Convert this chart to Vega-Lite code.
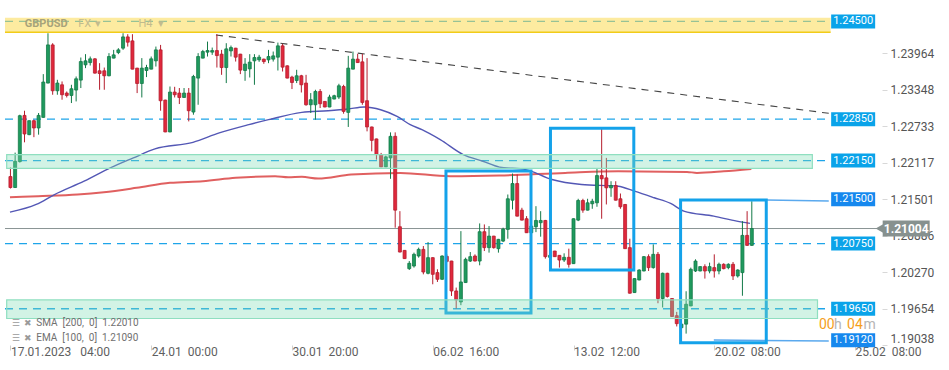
{
"$schema": "https://vega.github.io/schema/vega-lite/v6.json",
"width": 882, "height": 345,
"autosize": {"type": "none"},
"padding": {"left": 0, "top": 0, "right": 67, "bottom": 25},
"background": "white",
"config": {"view": {"stroke": null}, "font": "Roboto", "axis": {"grid": false, "domain": false, "title": null}},
"datasets": {
"levels": [
{"price": 1.245, "label": "1.24500"},
{"price": 1.2285, "label": "1.22850"},
{"price": 1.2215, "label": "1.22150"},
{"price": 1.215, "label": "1.21500"},
{"price": 1.2075, "label": "1.20750"},
{"price": 1.1965, "label": "1.19650"},
{"price": 1.1912, "label": "1.19120"}
],
"last": [{"last": 1.21004, "label": "1.21004"}],
"zones": [
{"zone": "top", "lo": 1.24316, "hi": 1.24562},
{"zone": "mid", "lo": 1.2202, "hi": 1.2225},
{"zone": "low", "lo": 1.19485, "hi": 1.19798}
],
"trend": [
{"id": "down", "i": 43.8, "p": 1.2427},
{"id": "down", "i": 174.4, "p": 1.22949},
{"id": "r1", "i": 161.1, "p": 1.21485},
{"id": "r1", "i": 174.4, "p": 1.21469},
{"id": "s1", "i": 149.9, "p": 1.19123},
{"id": "s1", "i": 174.4, "p": 1.19106}
],
"boxes": [
{"from": 92.82, "to": 110.94, "low": 1.19578, "high": 1.21975},
{"from": 115.09, "to": 132.85, "low": 1.20304, "high": 1.22696},
{"from": 142.82, "to": 161.08, "low": 1.19077, "high": 1.21485}
],
"ma": [
{"ma":"EMA","i":-0.1,"p":1.2128},{"ma":"EMA","i":5.5,"p":1.2141},{"ma":"EMA","i":9.4,"p":1.21578},{"ma":"EMA","i":15.7,"p":1.21802},{"ma":"EMA","i":21.3,"p":1.22028},{"ma":"EMA","i":26.2,"p":1.22196},{"ma":"EMA","i":30.8,"p":1.22348},{"ma":"EMA","i":38.9,"p":1.22459},{"ma":"EMA","i":44.5,"p":1.22617},{"ma":"EMA","i":50.8,"p":1.22757},{"ma":"EMA","i":55.0,"p":1.22841},{"ma":"EMA","i":62.1,"p":1.22964},{"ma":"EMA","i":67.7,"p":1.22992},{"ma":"EMA","i":71.9,"p":1.23021},{"ma":"EMA","i":75.4,"p":1.23055},{"ma":"EMA","i":78.9,"p":1.23009},{"ma":"EMA","i":82.4,"p":1.22896},{"ma":"EMA","i":85.2,"p":1.22757},{"ma":"EMA","i":87.7,"p":1.22672},{"ma":"EMA","i":91.6,"p":1.22504},{"ma":"EMA","i":96.5,"p":1.22252},{"ma":"EMA","i":100.7,"p":1.22139},{"ma":"EMA","i":104.2,"p":1.22041},{"ma":"EMA","i":109.8,"p":1.21999},{"ma":"EMA","i":115.4,"p":1.21831},{"ma":"EMA","i":121.7,"p":1.21747},{"ma":"EMA","i":129.5,"p":1.21718},{"ma":"EMA","i":133.0,"p":1.21634},{"ma":"EMA","i":137.2,"p":1.21523},{"ma":"EMA","i":140.7,"p":1.21427},{"ma":"EMA","i":143.5,"p":1.21297},{"ma":"EMA","i":149.9,"p":1.21213},{"ma":"EMA","i":154.8,"p":1.21129},{"ma":"EMA","i":157.6,"p":1.2109},
{"ma":"SMA","i":-0.1,"p":1.21533},{"ma":"SMA","i":5.9,"p":1.2155},{"ma":"SMA","i":14.3,"p":1.21578},{"ma":"SMA","i":19.9,"p":1.21617},{"ma":"SMA","i":26.9,"p":1.21691},{"ma":"SMA","i":34.0,"p":1.21775},{"ma":"SMA","i":41.0,"p":1.21802},{"ma":"SMA","i":48.0,"p":1.21859},{"ma":"SMA","i":56.4,"p":1.21886},{"ma":"SMA","i":59.2,"p":1.21869},{"ma":"SMA","i":62.1,"p":1.21876},{"ma":"SMA","i":65.6,"p":1.21848},{"ma":"SMA","i":72.6,"p":1.21915},{"ma":"SMA","i":83.1,"p":1.21943},{"ma":"SMA","i":93.7,"p":1.21886},{"ma":"SMA","i":104.2,"p":1.21898},{"ma":"SMA","i":118.2,"p":1.21943},{"ma":"SMA","i":129.5,"p":1.2197},{"ma":"SMA","i":144.2,"p":1.2196},{"ma":"SMA","i":146.3,"p":1.21943},{"ma":"SMA","i":152.0,"p":1.2197},{"ma":"SMA","i":157.9,"p":1.2201}
],
"notes": [
{"id": "sym", "text": "GBPUSD"},
{"id": "fx", "text": "FX"},
{"id": "dd1", "text": "▾"},
{"id": "tf", "text": "H4"},
{"id": "dd2", "text": "▾"},
{"id": "t1", "text": "00"},
{"id": "t2", "text": "h"},
{"id": "t3", "text": "04"},
{"id": "t4", "text": "m"},
{"id": "sma", "text": "SMA\u00a0\u00a0[200,\u00a0\u00a00]\u00a0\u00a01.22010"},
{"id": "ema", "text": "EMA\u00a0\u00a0[100,\u00a0\u00a00]\u00a0\u00a01.21090"},
{"id": "ic", "text": "☰\u00a0\u00a0✖"}
],
"candles": [
{"i":0,"o":1.21881,"h":1.22033,"l":1.21679,"c":1.21696},
{"i":1,"o":1.21696,"h":1.22285,"l":1.21688,"c":1.22139},
{"i":2,"o":1.22134,"h":1.22925,"l":1.22117,"c":1.22908},
{"i":3,"o":1.22913,"h":1.22992,"l":1.22459,"c":1.226},
{"i":4,"o":1.22588,"h":1.22829,"l":1.2258,"c":1.22824},
{"i":5,"o":1.22824,"h":1.22841,"l":1.22546,"c":1.22701},
{"i":6,"o":1.22701,"h":1.22954,"l":1.22588,"c":1.22913},
{"i":7,"o":1.2288,"h":1.2361,"l":1.22875,"c":1.23476},
{"i":8,"o":1.23459,"h":1.243,"l":1.23455,"c":1.24103},
{"i":9,"o":1.24103,"h":1.24132,"l":1.23262,"c":1.23329},
{"i":10,"o":1.23329,"h":1.23514,"l":1.23262,"c":1.23459},
{"i":11,"o":1.2343,"h":1.23486,"l":1.23178,"c":1.23262},
{"i":12,"o":1.2329,"h":1.23317,"l":1.23216,"c":1.2325},
{"i":13,"o":1.2325,"h":1.2343,"l":1.23122,"c":1.23363},
{"i":14,"o":1.23341,"h":1.2357,"l":1.23149,"c":1.23531},
{"i":15,"o":1.23509,"h":1.2389,"l":1.23375,"c":1.23822},
{"i":16,"o":1.23767,"h":1.23947,"l":1.23711,"c":1.23834},
{"i":17,"o":1.23805,"h":1.23907,"l":1.23755,"c":1.23868},
{"i":18,"o":1.23868,"h":1.2388,"l":1.23619,"c":1.23627},
{"i":19,"o":1.23666,"h":1.23795,"l":1.23346,"c":1.2362},
{"i":20,"o":1.23666,"h":1.23721,"l":1.23346,"c":1.23582},
{"i":21,"o":1.23582,"h":1.23964,"l":1.23573,"c":1.23907},
{"i":22,"o":1.2388,"h":1.24019,"l":1.23876,"c":1.23935},
{"i":23,"o":1.23974,"h":1.24048,"l":1.23947,"c":1.24019},
{"i":24,"o":1.24048,"h":1.243,"l":1.24019,"c":1.24238},
{"i":25,"o":1.24238,"h":1.24284,"l":1.24075,"c":1.24149},
{"i":26,"o":1.24171,"h":1.24284,"l":1.23691,"c":1.23694},
{"i":27,"o":1.23711,"h":1.23716,"l":1.2329,"c":1.23452},
{"i":28,"o":1.23452,"h":1.2388,"l":1.23216,"c":1.23711},
{"i":29,"o":1.23671,"h":1.23767,"l":1.2356,"c":1.23721},
{"i":30,"o":1.23694,"h":1.23907,"l":1.23691,"c":1.23868},
{"i":31,"o":1.23834,"h":1.24075,"l":1.23738,"c":1.24019},
{"i":32,"o":1.24019,"h":1.24103,"l":1.22992,"c":1.23161},
{"i":33,"o":1.23172,"h":1.23178,"l":1.2263,"c":1.22634},
{"i":34,"o":1.22634,"h":1.23401,"l":1.2263,"c":1.23307},
{"i":35,"o":1.23307,"h":1.23396,"l":1.23216,"c":1.23262},
{"i":36,"o":1.2329,"h":1.23375,"l":1.23105,"c":1.23216},
{"i":37,"o":1.23216,"h":1.23375,"l":1.23211,"c":1.2329},
{"i":38,"o":1.2329,"h":1.23375,"l":1.22812,"c":1.22992},
{"i":39,"o":1.2297,"h":1.23598,"l":1.22925,"c":1.2357},
{"i":40,"o":1.23543,"h":1.23964,"l":1.23093,"c":1.23907},
{"i":41,"o":1.2388,"h":1.24019,"l":1.23876,"c":1.23991},
{"i":42,"o":1.23981,"h":1.24159,"l":1.23907,"c":1.24008},
{"i":43,"o":1.23981,"h":1.24058,"l":1.23935,"c":1.24008},
{"i":44,"o":1.24008,"h":1.24284,"l":1.23721,"c":1.23923},
{"i":45,"o":1.23947,"h":1.24019,"l":1.23598,"c":1.23721},
{"i":46,"o":1.23721,"h":1.24132,"l":1.23459,"c":1.24036},
{"i":47,"o":1.24002,"h":1.24092,"l":1.23907,"c":1.24058},
{"i":48,"o":1.24048,"h":1.24053,"l":1.23822,"c":1.23896},
{"i":49,"o":1.23947,"h":1.23952,"l":1.2361,"c":1.23678},
{"i":50,"o":1.23671,"h":1.2388,"l":1.23497,"c":1.23779},
{"i":51,"o":1.23699,"h":1.23947,"l":1.23553,"c":1.23812},
{"i":52,"o":1.23834,"h":1.23947,"l":1.2343,"c":1.2389},
{"i":53,"o":1.23851,"h":1.23935,"l":1.23817,"c":1.23896},
{"i":54,"o":1.23863,"h":1.23871,"l":1.23784,"c":1.23822},
{"i":55,"o":1.23851,"h":1.24019,"l":1.23795,"c":1.23907},
{"i":56,"o":1.23863,"h":1.23991,"l":1.23822,"c":1.23918},
{"i":57,"o":1.23896,"h":1.24142,"l":1.23671,"c":1.24087},
{"i":58,"o":1.24087,"h":1.2412,"l":1.23654,"c":1.23728},
{"i":59,"o":1.2375,"h":1.23758,"l":1.23539,"c":1.23543},
{"i":60,"o":1.2356,"h":1.23582,"l":1.23358,"c":1.23469},
{"i":61,"o":1.23502,"h":1.23683,"l":1.23459,"c":1.23582},
{"i":62,"o":1.23582,"h":1.23598,"l":1.233,"c":1.2343},
{"i":63,"o":1.23459,"h":1.23598,"l":1.23077,"c":1.23093},
{"i":64,"o":1.23093,"h":1.2329,"l":1.22954,"c":1.23178},
{"i":65,"o":1.23093,"h":1.23346,"l":1.22841,"c":1.23317},
{"i":66,"o":1.23317,"h":1.23358,"l":1.23038,"c":1.2311},
{"i":67,"o":1.23149,"h":1.23152,"l":1.23051,"c":1.23055},
{"i":68,"o":1.23055,"h":1.23262,"l":1.23051,"c":1.23223},
{"i":69,"o":1.23189,"h":1.23262,"l":1.23186,"c":1.23245},
{"i":70,"o":1.23223,"h":1.23447,"l":1.23189,"c":1.23413},
{"i":71,"o":1.23401,"h":1.2343,"l":1.22942,"c":1.22981},
{"i":72,"o":1.22964,"h":1.23918,"l":1.22718,"c":1.23711},
{"i":73,"o":1.23694,"h":1.23991,"l":1.23691,"c":1.23863},
{"i":74,"o":1.23863,"h":1.23952,"l":1.238,"c":1.23805},
{"i":75,"o":1.23817,"h":1.23952,"l":1.23093,"c":1.23132},
{"i":76,"o":1.23161,"h":1.2388,"l":1.22644,"c":1.22718},
{"i":77,"o":1.22718,"h":1.22723,"l":1.22307,"c":1.22492},
{"i":78,"o":1.22516,"h":1.22521,"l":1.22167,"c":1.22252},
{"i":79,"o":1.22252,"h":1.2228,"l":1.22041,"c":1.22045},
{"i":80,"o":1.22045,"h":1.22235,"l":1.22041,"c":1.22213},
{"i":81,"o":1.22196,"h":1.22627,"l":1.21843,"c":1.2256},
{"i":82,"o":1.2256,"h":1.22627,"l":1.21018,"c":1.21314},
{"i":83,"o":1.21034,"h":1.21297,"l":1.20602,"c":1.20607},
{"i":84,"o":1.20635,"h":1.20635,"l":1.20492,"c":1.20496},
{"i":85,"o":1.20327,"h":1.20455,"l":1.20304,"c":1.20417},
{"i":86,"o":1.20371,"h":1.20597,"l":1.20344,"c":1.20568},
{"i":87,"o":1.2054,"h":1.20681,"l":1.20512,"c":1.20652},
{"i":88,"o":1.20652,"h":1.20708,"l":1.20231,"c":1.2027},
{"i":89,"o":1.20248,"h":1.20775,"l":1.20231,"c":1.20512},
{"i":90,"o":1.20512,"h":1.20518,"l":1.20063,"c":1.20231},
{"i":91,"o":1.2026,"h":1.20316,"l":1.20102,"c":1.20147},
{"i":92,"o":1.20147,"h":1.20551,"l":1.20139,"c":1.2054},
{"i":93,"o":1.20534,"h":1.20568,"l":1.20433,"c":1.2045},
{"i":94,"o":1.20455,"h":1.20459,"l":1.19866,"c":1.1995},
{"i":95,"o":1.1995,"h":1.20007,"l":1.19654,"c":1.19799},
{"i":96,"o":1.19765,"h":1.2096,"l":1.1971,"c":1.20102},
{"i":97,"o":1.20092,"h":1.20512,"l":1.20088,"c":1.20484},
{"i":98,"o":1.20455,"h":1.20607,"l":1.20439,"c":1.20529},
{"i":99,"o":1.2054,"h":1.20568,"l":1.2045,"c":1.20455},
{"i":100,"o":1.20455,"h":1.2109,"l":1.20383,"c":1.2095},
{"i":101,"o":1.2095,"h":1.21073,"l":1.20624,"c":1.20681},
{"i":102,"o":1.20681,"h":1.21045,"l":1.20597,"c":1.20876},
{"i":103,"o":1.20876,"h":1.2088,"l":1.20664,"c":1.20681},
{"i":104,"o":1.20664,"h":1.20829,"l":1.20597,"c":1.20821},
{"i":105,"o":1.20792,"h":1.21018,"l":1.20775,"c":1.20994},
{"i":106,"o":1.20989,"h":1.21578,"l":1.20832,"c":1.21506},
{"i":107,"o":1.21482,"h":1.21932,"l":1.21326,"c":1.21763},
{"i":108,"o":1.21763,"h":1.21915,"l":1.21208,"c":1.21213},
{"i":109,"o":1.21314,"h":1.21354,"l":1.21141,"c":1.21146},
{"i":110,"o":1.21169,"h":1.21213,"l":1.2093,"c":1.20933},
{"i":111,"o":1.20933,"h":1.21056,"l":1.2093,"c":1.21045},
{"i":112,"o":1.21034,"h":1.21381,"l":1.20943,"c":1.2114},
{"i":113,"o":1.21102,"h":1.21297,"l":1.20866,"c":1.2114},
{"i":114,"o":1.2114,"h":1.21149,"l":1.20496,"c":1.20529},
{"i":115,"o":1.20518,"h":1.2056,"l":1.20509,"c":1.20551},
{"i":116,"o":1.20624,"h":1.20627,"l":1.20526,"c":1.20529},
{"i":117,"o":1.20551,"h":1.20556,"l":1.20344,"c":1.20472},
{"i":118,"o":1.20472,"h":1.20585,"l":1.20439,"c":1.20518},
{"i":119,"o":1.20518,"h":1.20664,"l":1.20344,"c":1.204},
{"i":120,"o":1.20411,"h":1.21174,"l":1.20408,"c":1.21169},
{"i":121,"o":1.21146,"h":1.21506,"l":1.21129,"c":1.21477},
{"i":122,"o":1.21477,"h":1.21506,"l":1.2127,"c":1.21314},
{"i":123,"o":1.21314,"h":1.21506,"l":1.21309,"c":1.21438},
{"i":124,"o":1.21422,"h":1.21506,"l":1.21337,"c":1.21465},
{"i":125,"o":1.21438,"h":1.22011,"l":1.21371,"c":1.21898},
{"i":126,"o":1.21898,"h":1.22684,"l":1.21169,"c":1.21843},
{"i":127,"o":1.21859,"h":1.22196,"l":1.2141,"c":1.21691},
{"i":128,"o":1.21691,"h":1.21802,"l":1.21539,"c":1.2173},
{"i":129,"o":1.2173,"h":1.21802,"l":1.21477,"c":1.21482},
{"i":130,"o":1.21506,"h":1.21595,"l":1.21337,"c":1.21371},
{"i":131,"o":1.2141,"h":1.21418,"l":1.20661,"c":1.20664},
{"i":132,"o":1.20681,"h":1.20832,"l":1.19906,"c":1.19912},
{"i":133,"o":1.19923,"h":1.20164,"l":1.1992,"c":1.20159},
{"i":134,"o":1.20135,"h":1.20316,"l":1.2013,"c":1.20304},
{"i":135,"o":1.20287,"h":1.2054,"l":1.20282,"c":1.20529},
{"i":136,"o":1.20529,"h":1.20568,"l":1.20287,"c":1.20344},
{"i":137,"o":1.20344,"h":1.20736,"l":1.20327,"c":1.20568},
{"i":138,"o":1.20568,"h":1.20607,"l":1.19743,"c":1.19822},
{"i":139,"o":1.19822,"h":1.2026,"l":1.19671,"c":1.20248},
{"i":140,"o":1.20248,"h":1.20257,"l":1.19839,"c":1.19856},
{"i":141,"o":1.19822,"h":1.19827,"l":1.19516,"c":1.19519},
{"i":142,"o":1.19533,"h":1.19597,"l":1.19351,"c":1.19398},
{"i":143,"o":1.1933,"h":1.1942,"l":1.1928,"c":1.1939},
{"i":144,"o":1.1939,"h":1.19945,"l":1.1923,"c":1.19726},
{"i":145,"o":1.19698,"h":1.20344,"l":1.19693,"c":1.20316},
{"i":146,"o":1.20287,"h":1.20484,"l":1.2027,"c":1.20455},
{"i":147,"o":1.20287,"h":1.20366,"l":1.20282,"c":1.20361},
{"i":148,"o":1.20361,"h":1.204,"l":1.20159,"c":1.20287},
{"i":149,"o":1.20287,"h":1.20428,"l":1.20248,"c":1.20361},
{"i":150,"o":1.20344,"h":1.20568,"l":1.20176,"c":1.20287},
{"i":151,"o":1.20287,"h":1.20428,"l":1.20231,"c":1.204},
{"i":152,"o":1.204,"h":1.20417,"l":1.20316,"c":1.20327},
{"i":153,"o":1.20344,"h":1.20417,"l":1.20316,"c":1.204},
{"i":154,"o":1.204,"h":1.20439,"l":1.20135,"c":1.20203},
{"i":155,"o":1.20203,"h":1.20316,"l":1.20176,"c":1.20304},
{"i":156,"o":1.2026,"h":1.21129,"l":1.19869,"c":1.20888},
{"i":157,"o":1.20888,"h":1.21297,"l":1.20711,"c":1.2072},
{"i":158,"o":1.2072,"h":1.21465,"l":1.20711,"c":1.21004}
]
},
"layer": [
{
"data": {"name": "levels"},
"transform": [{"filter": "datum.price != 1.215 && datum.price != 1.1912"}],
"mark": {"type": "rule", "stroke": "#1ea5e9", "strokeWidth": 1.3, "strokeDash": [8, 6]},
"encoding": {
"x": {"datum": -1.16, "type": "quantitative",
"scale": {"domain": [-1.159, 184.68], "nice": false, "zero": false},
"axis": {"orient": "bottom", "values": [0, 30, 60, 90, 120, 150, 180],
"labelExpr": "datum.value == 0 ? '17.01.2023\u00a0\u00a0\u00a004:00' : datum.value == 30 ? '24.01\u00a0\u00a000:00' : datum.value == 60 ? '30.01\u00a0\u00a020:00' : datum.value == 90 ? '06.02\u00a0\u00a016:00' : datum.value == 120 ? '13.02\u00a0\u00a012:00' : datum.value == 150 ? '20.02\u00a0\u00a008:00' : '25.02\u00a0\u00a008:00'",
"labelAlign": "left", "labelFontSize": 12, "labelColor": "#5f5f5f", "tickColor": "#d0d0d0", "tickSize": 5,
"labelPadding": -4, "labelOverlap": false, "labelBound": false, "labelFlush": false, "title": null}},
"x2": {"datum": 174.4},
"y": {"field": "price", "type": "quantitative",
"scale": {"domain": [1.19038, 1.24861], "nice": false, "zero": false},
"axis": {"orient": "right", "values": [1.23964, 1.23348, 1.22733, 1.22117, 1.21501, 1.20886, 1.2027, 1.19654, 1.19038],
"format": ".5f", "labelFontSize": 12, "labelColor": "#555555", "tickColor": "#d8d8d8", "tickSize": 5,
"labelPadding": 3, "labelFlush": true, "labelOverlap": false, "title": null}}
}
},
{
"data": {"name": "last"},
"mark": {"type": "rule", "stroke": "#8a9494", "strokeWidth": 1},
"encoding": {"x": {"datum": -1.16, "type": "quantitative"}, "x2": {"datum": 184.68}, "y": {"field": "last", "type": "quantitative"}}
},
{
"data": {"name": "trend"},
"transform": [{"filter": "datum.id == 'down'"}],
"mark": {"type": "line", "stroke": "#444444", "strokeWidth": 1.1, "strokeDash": [7, 6]},
"encoding": {"x": {"field": "i", "type": "quantitative"}, "y": {"field": "p", "type": "quantitative"}}
},
{
"data": {"name": "trend"},
"transform": [{"filter": "datum.id != 'down'"}],
"mark": {"type": "line", "stroke": "#5aa9ee", "strokeWidth": 1.5},
"encoding": {"x": {"field": "i", "type": "quantitative"}, "y": {"field": "p", "type": "quantitative"}, "detail": {"field": "id"}}
},
{
"data": {"name": "ma"},
"transform": [{"filter": "datum.ma == 'SMA'"}],
"mark": {"type": "line", "stroke": "#e06060", "strokeWidth": 2, "interpolate": "monotone"},
"encoding": {"x": {"field": "i", "type": "quantitative"}, "y": {"field": "p", "type": "quantitative"}}
},
{
"data": {"name": "ma"},
"transform": [{"filter": "datum.ma == 'EMA'"}],
"mark": {"type": "line", "stroke": "#5357b5", "strokeWidth": 1.4, "interpolate": "monotone"},
"encoding": {"x": {"field": "i", "type": "quantitative"}, "y": {"field": "p", "type": "quantitative"}}
},
{
"data": {"name": "candles"},
"mark": {"type": "rule", "strokeWidth": 1},
"encoding": {
"x": {"field": "i", "type": "quantitative"},
"y": {"field": "l", "type": "quantitative"}, "y2": {"field": "h"},
"color": {"condition": {"test": "datum.c >= datum.o", "value": "#137a48"}, "value": "#b51d2d"}
}
},
{
"data": {"name": "candles"},
"mark": {"type": "bar", "width": 3, "strokeWidth": 0.8},
"encoding": {
"x": {"field": "i", "type": "quantitative"},
"y": {"field": "o", "type": "quantitative"}, "y2": {"field": "c"},
"fill": {"condition": {"test": "datum.c >= datum.o", "value": "#1f9a5e"}, "value": "#e0283c"},
"stroke": {"condition": {"test": "datum.c >= datum.o", "value": "#137a48"}, "value": "#b51d2d"}
}
},
{
"data": {"name": "boxes"},
"mark": {"type": "rect", "fillOpacity": 0, "stroke": "#14a2ea", "strokeWidth": 3},
"encoding": {
"x": {"field": "from", "type": "quantitative"}, "x2": {"field": "to"},
"y": {"field": "low", "type": "quantitative"}, "y2": {"field": "high"}
}
},
{
"data": {"name": "zones"},
"transform": [{"filter": "datum.zone == 'top'"}],
"mark": {"type": "rect", "fill": "#fbdb52", "fillOpacity": 0.55},
"encoding": {"x": {"datum": -1.16, "type": "quantitative"}, "x2": {"datum": 174.8}, "y": {"field": "lo", "type": "quantitative"}, "y2": {"field": "hi"}}
},
{
"data": {"name": "zones"},
"transform": [{"filter": "datum.zone == 'top'"}],
"mark": {"type": "rule", "stroke": "#f2cc18", "strokeWidth": 1.5},
"encoding": {"x": {"datum": -1.16, "type": "quantitative"}, "x2": {"datum": 174.8}, "y": {"field": "lo", "type": "quantitative"}}
},
{
"data": {"name": "zones"},
"transform": [{"filter": "datum.zone == 'mid'"}],
"mark": {"type": "rect", "fill": "#7fdcb4", "fillOpacity": 0.35, "stroke": "#8fdfc0", "strokeWidth": 1.2},
"encoding": {"x": {"datum": -0.8, "type": "quantitative"}, "x2": {"datum": 170.9}, "y": {"field": "lo", "type": "quantitative"}, "y2": {"field": "hi"}}
},
{
"data": {"name": "zones"},
"transform": [{"filter": "datum.zone == 'low'"}],
"mark": {"type": "rect", "fill": "#7fdcb4", "fillOpacity": 0.35, "stroke": "#8fdfc0", "strokeWidth": 1.2},
"encoding": {"x": {"datum": -0.8, "type": "quantitative"}, "x2": {"datum": 172.0}, "y": {"field": "lo", "type": "quantitative"}, "y2": {"field": "hi"}}
},
{
"data": {"name": "levels"},
"mark": {"type": "tick", "orient": "horizontal", "size": 44, "thickness": 14, "opacity": 1},
"encoding": {
"x": {"datum": 179.6, "type": "quantitative"},
"y": {"field": "price", "type": "quantitative"},
"color": {"condition": {"test": "datum.price == 1.215 || datum.price == 1.1912", "value": "#1688ee"}, "value": "#0aa3e9"}
}
},
{
"data": {"name": "levels"},
"mark": {"type": "text", "color": "white", "fontSize": 11, "align": "center", "baseline": "middle"},
"encoding": {"x": {"datum": 179.6, "type": "quantitative"}, "y": {"field": "price", "type": "quantitative"}, "text": {"field": "label"}}
},
{
"data": {"name": "last"},
"mark": {"type": "point", "shape": "triangle-left", "size": 170, "filled": true, "color": "#87918f", "opacity": 1},
"encoding": {"x": {"datum": 185.6, "type": "quantitative"}, "y": {"field": "last", "type": "quantitative"}}
},
{
"data": {"name": "last"},
"mark": {"type": "tick", "orient": "horizontal", "size": 47, "thickness": 16, "opacity": 1, "color": "#87918f"},
"encoding": {"x": {"datum": 190.9, "type": "quantitative"}, "y": {"field": "last", "type": "quantitative"}}
},
{
"data": {"name": "last"},
"mark": {"type": "text", "color": "white", "fontSize": 12, "fontWeight": "bold", "align": "center", "baseline": "middle"},
"encoding": {"x": {"datum": 190.9, "type": "quantitative"}, "y": {"field": "last", "type": "quantitative"}, "text": {"field": "label"}}
},
{
"data": {"name": "notes"},
"transform": [{"filter": "datum.id == 'sym'"}],
"mark": {"type": "text", "color": "#a8a37a", "fontSize": 11, "fontWeight": "bold", "align": "left", "baseline": "middle"},
"encoding": {"x": {"datum": 3.06, "type": "quantitative"}, "y": {"datum": 1.24461, "type": "quantitative"}, "text": {"field": "text"}}
},
{
"data": {"name": "notes"},
"transform": [{"filter": "datum.id == 'fx'"}],
"mark": {"type": "text", "color": "#c2bb8e", "fontSize": 11, "align": "left", "baseline": "middle"},
"encoding": {"x": {"datum": 14.43, "type": "quantitative"}, "y": {"datum": 1.24461, "type": "quantitative"}, "text": {"field": "text"}}
},
{
"data": {"name": "notes"},
"transform": [{"filter": "datum.id == 'dd1'"}],
"mark": {"type": "text", "color": "#c2bb8e", "fontSize": 11, "align": "left", "baseline": "middle"},
"encoding": {"x": {"datum": 18.0, "type": "quantitative"}, "y": {"datum": 1.24461, "type": "quantitative"}, "text": {"field": "text"}}
},
{
"data": {"name": "notes"},
"transform": [{"filter": "datum.id == 'tf'"}],
"mark": {"type": "text", "color": "#c2bb8e", "fontSize": 11, "align": "left", "baseline": "middle"},
"encoding": {"x": {"datum": 27.29, "type": "quantitative"}, "y": {"datum": 1.24461, "type": "quantitative"}, "text": {"field": "text"}}
},
{
"data": {"name": "notes"},
"transform": [{"filter": "datum.id == 'dd2'"}],
"mark": {"type": "text", "color": "#c2bb8e", "fontSize": 11, "align": "left", "baseline": "middle"},
"encoding": {"x": {"datum": 31.5, "type": "quantitative"}, "y": {"datum": 1.24461, "type": "quantitative"}, "text": {"field": "text"}}
},
{
"data": {"name": "notes"},
"transform": [{"filter": "datum.id == 't1'"}],
"mark": {"type": "text", "color": "#f5a01a", "fontSize": 14, "align": "left", "baseline": "middle"},
"encoding": {"x": {"datum": 172.3, "type": "quantitative"}, "y": {"datum": 1.19376, "type": "quantitative"}, "text": {"field": "text"}}
},
{
"data": {"name": "notes"},
"transform": [{"filter": "datum.id == 't2'"}],
"mark": {"type": "text", "color": "#b5b5b5", "fontSize": 14, "align": "left", "baseline": "middle"},
"encoding": {"x": {"datum": 175.5, "type": "quantitative"}, "y": {"datum": 1.19376, "type": "quantitative"}, "text": {"field": "text"}}
},
{
"data": {"name": "notes"},
"transform": [{"filter": "datum.id == 't3'"}],
"mark": {"type": "text", "color": "#f5a01a", "fontSize": 14, "align": "left", "baseline": "middle"},
"encoding": {"x": {"datum": 178.3, "type": "quantitative"}, "y": {"datum": 1.19376, "type": "quantitative"}, "text": {"field": "text"}}
},
{
"data": {"name": "notes"},
"transform": [{"filter": "datum.id == 't4'"}],
"mark": {"type": "text", "color": "#b5b5b5", "fontSize": 14, "align": "left", "baseline": "middle"},
"encoding": {"x": {"datum": 181.8, "type": "quantitative"}, "y": {"datum": 1.19376, "type": "quantitative"}, "text": {"field": "text"}}
},
{
"data": {"name": "notes"},
"transform": [{"filter": "datum.id == 'sma'"}],
"mark": {"type": "text", "color": "#707070", "fontSize": 10, "align": "left", "baseline": "middle"},
"encoding": {"x": {"datum": 5.52, "type": "quantitative"}, "y": {"datum": 1.19404, "type": "quantitative"}, "text": {"field": "text"}}
},
{
"data": {"name": "notes"},
"transform": [{"filter": "datum.id == 'ema'"}],
"mark": {"type": "text", "color": "#707070", "fontSize": 10, "align": "left", "baseline": "middle"},
"encoding": {"x": {"datum": 5.52, "type": "quantitative"}, "y": {"datum": 1.19161, "type": "quantitative"}, "text": {"field": "text"}}
},
{
"data": {"name": "notes"},
"transform": [{"filter": "datum.id == 'ic'"}],
"mark": {"type": "text", "color": "#9a9a9a", "fontSize": 9, "align": "left", "baseline": "middle"},
"encoding": {"x": {"datum": 0.25, "type": "quantitative"}, "y": {"datum": 1.19404, "type": "quantitative"}, "text": {"field": "text"}}
},
{
"data": {"name": "notes"},
"transform": [{"filter": "datum.id == 'ic'"}],
"mark": {"type": "text", "color": "#9a9a9a", "fontSize": 9, "align": "left", "baseline": "middle"},
"encoding": {"x": {"datum": 0.25, "type": "quantitative"}, "y": {"datum": 1.19161, "type": "quantitative"}, "text": {"field": "text"}}
}
]
}
